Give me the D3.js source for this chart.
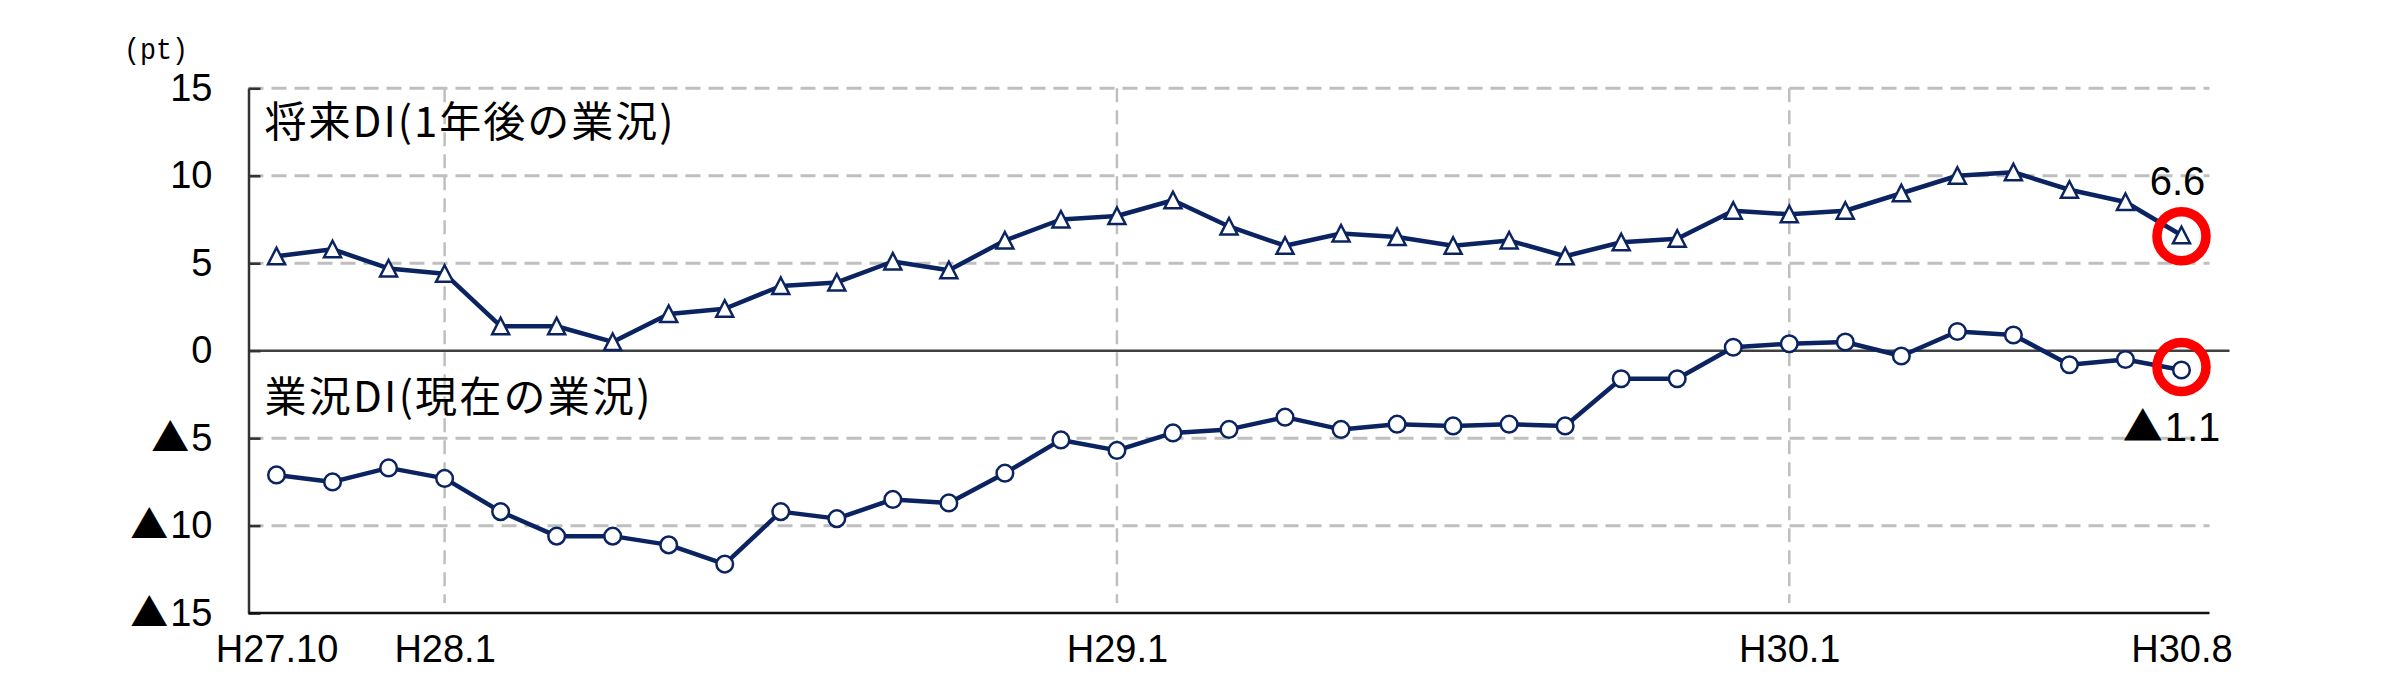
<!DOCTYPE html>
<html><head><meta charset="utf-8">
<script src="https://cdn.jsdelivr.net/npm/d3@7"></script>
<style>
html,body{margin:0;padding:0;background:#fff;}
svg{display:block;}
</style></head>
<body>
<svg id="chart" width="2392" height="700"></svg>
<script>
const categories = ["H27.10","H27.11","H27.12",
  "H28.1","H28.2","H28.3","H28.4","H28.5","H28.6","H28.7","H28.8","H28.9","H28.10","H28.11","H28.12",
  "H29.1","H29.2","H29.3","H29.4","H29.5","H29.6","H29.7","H29.8","H29.9","H29.10","H29.11","H29.12",
  "H30.1","H30.2","H30.3","H30.4","H30.5","H30.6","H30.7","H30.8"];
const futureDI = [5.4,5.8,4.7,4.4,1.4,1.4,0.5,2.1,2.4,3.7,3.9,5.1,4.6,6.3,7.5,7.7,8.6,7.1,6.0,6.7,6.5,6.0,6.3,5.4,6.2,6.4,8.0,7.8,8.0,9.0,10.0,10.2,9.2,8.5,6.6];
const currentDI = [-7.1,-7.5,-6.7,-7.3,-9.2,-10.6,-10.6,-11.1,-12.2,-9.2,-9.6,-8.5,-8.7,-7.0,-5.1,-5.7,-4.7,-4.5,-3.8,-4.5,-4.2,-4.3,-4.2,-4.3,-1.6,-1.6,0.2,0.4,0.5,-0.3,1.1,0.9,-0.8,-0.5,-1.1];
const xTickLabels = ["H27.10","H28.1","H29.1","H30.1","H30.8"];
const xGridCats = ["H28.1","H29.1","H30.1"];
const yTicks = [-15,-10,-5,0,5,10,15];
const seriesNames = ["将来DI(1年後の業況)","業況DI(現在の業況)"];
const unitLabel = "(pt)";

const svg = d3.select("#chart");
const L = 248.5, R = 2209.5, T = 88.3, B = 613.1;
const NAVY = "#0b2461";
const latin = "'Liberation Sans', Arial, 'Noto Sans CJK JP', sans-serif";
const jp = "'Noto Sans CJK JP', sans-serif";

const x = d3.scalePoint().domain(categories).range([L, R]).padding(0.5);
const y = d3.scaleLinear().domain([-15, 15]).range([B, T]);

// writes a value into a text node, negative values shown with a Japanese ▲
function writeValue(sel, v) {
  sel.text(null);
  if (v < 0) {
    sel.append("tspan").attr("font-family", jp).text("▲");
    sel.append("tspan").attr("dx", 2).text(String(Math.abs(v)));
  } else {
    sel.append("tspan").text(String(v));
  }
}

// horizontal dashed gridlines
svg.append("g").selectAll("line").data(yTicks.filter(v => v !== -15 && v !== 0))
  .join("line")
  .attr("x1", L).attr("x2", R).attr("y1", d => y(d)).attr("y2", d => y(d))
  .attr("stroke", "#bfbfbf").attr("stroke-width", 3).attr("stroke-dasharray", "15,8");

// vertical dashed gridlines
svg.append("g").selectAll("line").data(xGridCats)
  .join("line")
  .attr("x1", d => x(d)).attr("x2", d => x(d)).attr("y1", T).attr("y2", B - 10)
  .attr("stroke", "#bfbfbf").attr("stroke-width", 2.5).attr("stroke-dasharray", "14,8");

// zero line
svg.append("line").attr("x1", L).attr("x2", R + 20).attr("y1", y(0)).attr("y2", y(0))
  .attr("stroke", "#404040").attr("stroke-width", 2.5);

// y axis
const yAxis = d3.axisLeft(y).tickValues(yTicks)
  .tickSizeInner(-12).tickSizeOuter(0).tickPadding(36);
const gy = svg.append("g").attr("transform", `translate(${L},0)`).call(yAxis);
gy.select(".domain").attr("stroke", "#333").attr("stroke-width", 2.5);
gy.selectAll(".tick line").attr("stroke", "#333").attr("stroke-width", 2.5);
gy.selectAll(".tick text").attr("font-family", latin).attr("font-size", 38).attr("fill", "#000")
  .each(function(d) { writeValue(d3.select(this), d); });

// x axis
const xAxis = d3.axisBottom(x).tickValues(xTickLabels).tickSize(0).tickPadding(22);
const gx = svg.append("g").attr("transform", `translate(0,${B})`).call(xAxis);
gx.select(".domain").remove();
svg.append("line").attr("x1", L).attr("x2", R).attr("y1", B).attr("y2", B)
  .attr("stroke", "#111").attr("stroke-width", 2.5);
gx.selectAll(".tick text").attr("font-family", latin).attr("font-size", 38).attr("fill", "#000");

// unit label
svg.append("text").attr("x", 124).attr("y", 59)
  .attr("font-family", "'Liberation Mono', 'DejaVu Sans Mono', monospace")
  .attr("font-size", 30).attr("textLength", 64).attr("lengthAdjust", "spacingAndGlyphs")
  .text(unitLabel);

// series labels
svg.append("text").attr("x", L + 16).attr("y", 137).attr("font-family", jp)
  .attr("font-size", 42).attr("textLength", 409).attr("lengthAdjust", "spacing")
  .text(seriesNames[0]);
svg.append("text").attr("x", L + 16).attr("y", 412).attr("font-family", jp)
  .attr("font-size", 42).attr("textLength", 386).attr("lengthAdjust", "spacing")
  .text(seriesNames[1]);

// lines
const line = d3.line().x(d => x(d.c)).y(d => y(d.v));
const futData = categories.map((c, i) => ({c, v: futureDI[i]}));
const curData = categories.map((c, i) => ({c, v: currentDI[i]}));
[futData, curData].forEach(data => {
  svg.append("path").datum(data).attr("d", line).attr("fill", "none")
    .attr("stroke", NAVY).attr("stroke-width", 4.5).attr("stroke-linejoin", "round");
});

// markers
svg.append("g").selectAll("path").data(futData).join("path")
  .attr("transform", d => `translate(${x(d.c)},${y(d.v)})`)
  .attr("d", "M0,-8.5L8.5,8L-8.5,8Z")
  .attr("fill", "#fff").attr("stroke", NAVY).attr("stroke-width", 2.5);
svg.append("g").selectAll("circle").data(curData).join("circle")
  .attr("cx", d => x(d.c)).attr("cy", d => y(d.v)).attr("r", 8.3)
  .attr("fill", "#fff").attr("stroke", NAVY).attr("stroke-width", 2.5);

// highlight rings on the latest values
const lastF = futData[futData.length - 1], lastC = curData[curData.length - 1];
[[lastF, 1], [lastC, -3]].forEach(([d, dy]) => {
  svg.append("circle").attr("cx", x(d.c)).attr("cy", y(d.v) + dy).attr("r", 24.5)
    .attr("fill", "none").attr("stroke", "#ff0000").attr("stroke-width", 9.5);
});

// value labels
svg.append("text").attr("x", x(lastF.c) - 4).attr("y", y(lastF.v) - 40)
  .attr("text-anchor", "middle").attr("font-family", latin).attr("font-size", 40)
  .call(s => writeValue(s, lastF.v));
svg.append("text").attr("x", x(lastC.c) - 10).attr("y", y(lastC.v) + 71)
  .attr("text-anchor", "middle").attr("font-family", latin).attr("font-size", 40)
  .call(s => writeValue(s, lastC.v));
</script>
</body></html>
